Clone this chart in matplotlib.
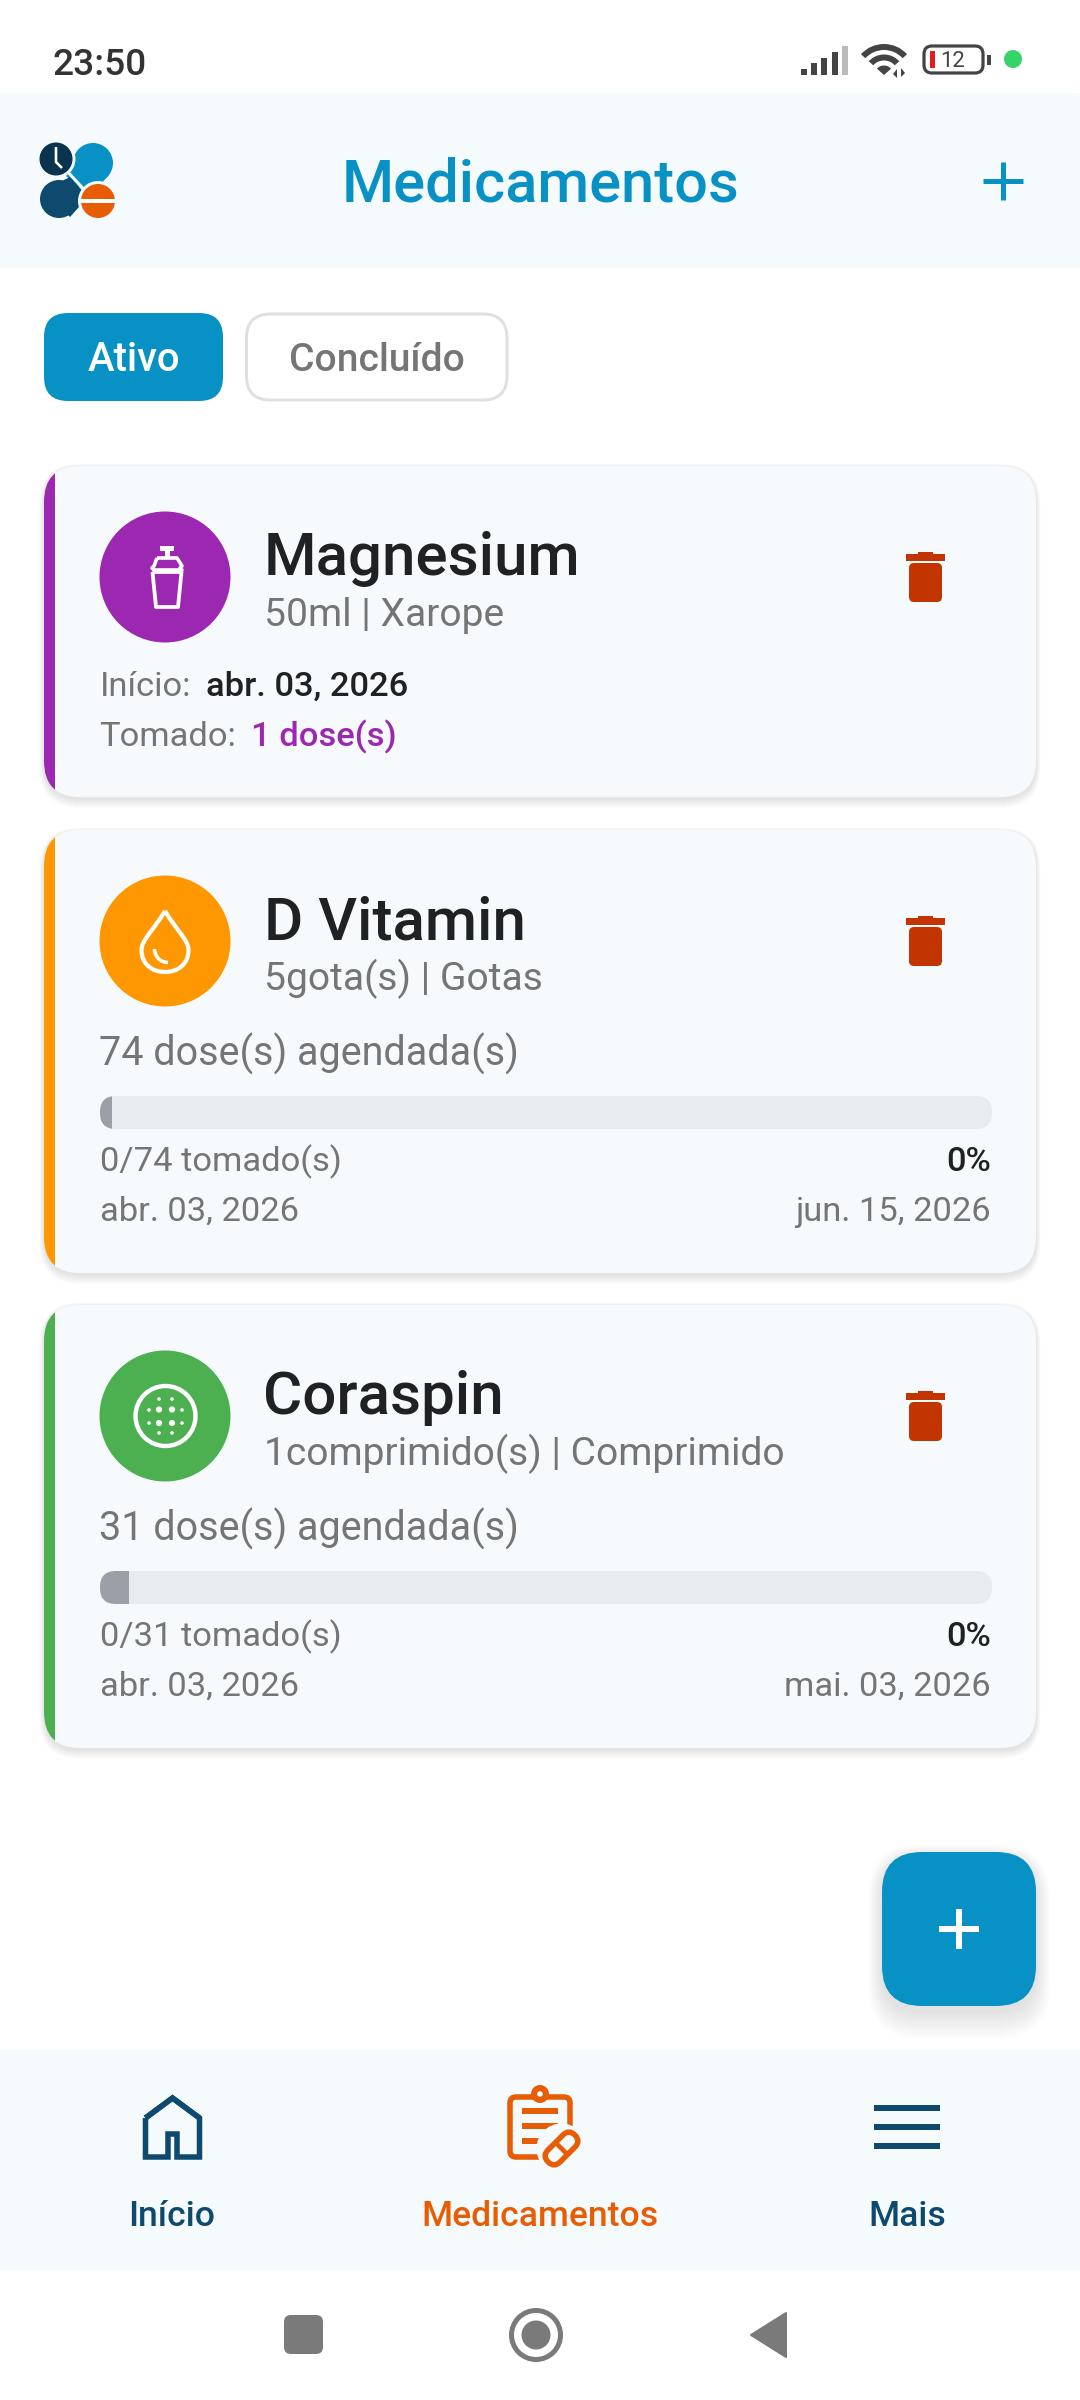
import numpy as np
import matplotlib
matplotlib.use("Agg")
import matplotlib.pyplot as plt
from matplotlib.patches import FancyBboxPatch, Rectangle, Circle, Wedge, Arc, Polygon, PathPatch
from matplotlib.path import Path

# ---- content ----
status_time = "23:50"
battery_level = "12"
screen_title = "Medicamentos"
tab_labels = ["Ativo", "Concluído"]
med_names = ["Magnesium", "D Vitamin", "Coraspin"]
med_details = ["50ml | Xarope", "5gota(s) | Gotas", "1comprimido(s) | Comprimido"]
med_colors = ["#9C27B0", "#FF9800", "#4CAF50"]
start_label = "Início:"
start_value = "abr. 03, 2026"
taken_label = "Tomado:"
taken_value = "1 dose(s)"
sched_names = ["74 dose(s) agendada(s)", "31 dose(s) agendada(s)"]
sched_total = [74, 31]
sched_fill = [1, 1]
sched_taken = ["0/74 tomado(s)", "0/31 tomado(s)"]
sched_pct = ["0%", "0%"]
sched_start = ["abr. 03, 2026", "abr. 03, 2026"]
sched_end = ["jun. 15, 2026", "mai. 03, 2026"]
nav_labels = ["Início", "Medicamentos", "Mais"]

BLUE = "#0891C4"; NAVY = "#0E4A6E"; ORANGE = "#E85D04"; PANEL = "#F5FAFD"
CARD = "#F7FAFC"; INK = "#1F2123"; GRAY = "#757575"; TRASH = "#C23500"
SMALL = 34.5

plt.rcParams["font.family"] = ["Roboto", "DejaVu Sans"]
fig = plt.figure(figsize=(10.8, 24), dpi=100, facecolor="white")
ax = fig.add_axes([0, 0, 1, 1])
ax.set_xlim(0, 1080); ax.set_ylim(2400, 0); ax.axis("off")
PT = 72 / 100

def T(x, y, s, px, color=INK, weight=400, ha="left"):
    return ax.text(x, y, s, fontsize=px * PT, color=color, fontweight=weight, ha=ha, va="baseline")

def RR(x0, y0, x1, y1, r, fc, ec="none", lw=0, z=2, alpha=None):
    p = FancyBboxPatch((x0, y0), x1 - x0, y1 - y0, boxstyle=f"round,pad=0,rounding_size={r}",
                       fc=fc, ec=ec, lw=lw * PT, zorder=z, alpha=alpha)
    ax.add_patch(p)
    return p

def L(xs, ys, color, lw, z=5, cap="butt", join="miter"):
    ax.plot(xs, ys, color=color, lw=lw * PT, solid_capstyle=cap, solid_joinstyle=join, zorder=z)

def shadow(x0, y0, x1, y1, r, dy, spread, z=1, a=0.022):
    for i in range(spread, 0, -1):
        RR(x0 - i * 0.5, y0 + dy - i * 0.5, x1 + i * 0.5, y1 + dy + i, r + i * 0.5, "black", z=z, alpha=a)

# status bar
T(52, 75, status_time, 37, "#333333", 500)
for x0, top, c in zip([801, 811, 821, 832, 842], [69, 63, 58, 52, 46],
                      ["#444444"] * 4 + ["#BBBBBB"]):
    ax.add_patch(Rectangle((x0, top), 6, 75 - top, fc=c, ec="none", zorder=3))
for r, w in [(31, 6), (20.5, 6)]:
    ax.add_patch(Wedge((884, 75), r, 222, 318, width=w, fc="#444444", ec="none", zorder=3))
ax.add_patch(Wedge((884, 75), 9.5, 222, 318, fc="#444444", ec="none", zorder=3))
ax.add_patch(Polygon([[893, 74], [897, 69], [897, 78]], fc="#444444", ec="none", zorder=3))
ax.add_patch(Polygon([[905, 73], [901, 68], [901, 77]], fc="#444444", ec="none", zorder=3))
RR(924, 46, 983, 73, 8, "white", "#444444", 3.2, z=3)
ax.add_patch(Rectangle((930, 51), 5, 17, fc="#E02020", ec="none", zorder=4))
T(953, 67, battery_level, 22, "#444444", 400, "center")
ax.add_patch(Rectangle((987, 55), 4, 10, fc="#444444", ec="none", zorder=3))
ax.add_patch(Circle((1013, 59), 9, fc="#34D46A", ec="none", zorder=3))

# header
ax.add_patch(Rectangle((0, 93), 1080, 175, fc=PANEL, ec="none", zorder=1))
ax.add_patch(Polygon([[79, 152], [108, 176], [90, 196], [66, 176]], fc=BLUE, ec="none", zorder=2))
ax.add_patch(Circle((93, 163), 20, fc=BLUE, ec="none", zorder=2))
ax.add_patch(Polygon([[70, 177], [88, 197], [70, 217], [44, 190]], fc=NAVY, ec="none", zorder=2))
ax.add_patch(Circle((59, 199), 19, fc=NAVY, ec="none", zorder=2))
L([66, 90], [170, 196], PANEL, 3, z=3)
ax.add_patch(Circle((56, 159), 19.5, fc=PANEL, ec="none", zorder=4))
ax.add_patch(Circle((56, 159), 16.5, fc="#0A3350", ec="none", zorder=5))
L([56, 56, 62], [147, 162, 168], "white", 2.6, z=6)
ax.add_patch(Circle((98, 201), 20, fc=PANEL, ec="none", zorder=4))
ax.add_patch(Circle((98, 201), 17, fc=ORANGE, ec="none", zorder=5))
ax.add_patch(Rectangle((80, 199), 36, 3.5, fc="white", ec="none", zorder=6))
T(540, 201, screen_title, 59.5, BLUE, 500, "center")
L([983, 1023], [181, 181], BLUE, 5)
L([1003, 1003], [162, 200], BLUE, 5)

# tabs
RR(44, 313, 223, 401, 24, BLUE)
T(133.5, 371, tab_labels[0], 40, "white", 500, "center")
RR(246.5, 314, 507, 400, 24, "white", "#E0E0E0", 3)
T(377, 371, tab_labels[1], 39, GRAY, 500, "center")

def trash(cy):
    ax.add_patch(Rectangle((918, cy - 25), 15, 4, fc=TRASH, ec="none", zorder=4))
    ax.add_patch(Rectangle((906, cy - 23), 39, 7, fc=TRASH, ec="none", zorder=4))
    RR(909, cy - 14, 942, cy + 25, 5, TRASH, z=4)

def card(y0, y1, color):
    shadow(44, y0, 1036, y1, 36, 2, 9, a=0.012)
    p = RR(44, y0, 1036, y1, 36, CARD, z=2)
    bar = Rectangle((44, y0), 11, y1 - y0, fc=color, ec="none", zorder=3)
    ax.add_patch(bar)
    bar.set_clip_path(p)

def head(i, cy):
    ax.add_patch(Circle((165, cy), 65.5, fc=med_colors[i], ec="none", zorder=3))
    T(263.5, cy - 2, med_names[i], 60, INK, 500)
    T(264, cy + 49, med_details[i], 39, GRAY)
    trash(cy)

# card 1
card(466, 797, med_colors[0])
head(0, 577)
W = "white"
ax.add_patch(Rectangle((160, 546), 14, 5, fc=W, ec="none", zorder=5))
ax.add_patch(Rectangle((164.5, 550), 5, 8, fc=W, ec="none", zorder=5))
L([157, 177, 182, 180, 182, 154, 152, 154, 157], [558, 558, 566, 568, 570, 570, 568, 566, 558], W, 3.6, join="round")
L([152.5, 181.5, 178, 156, 152.5], [572, 572, 607, 607, 572], W, 3.8, join="round")
T(99.5, 696, start_label, SMALL, GRAY)
T(206, 696, start_value, SMALL, INK, 500)
T(99.5, 746, taken_label, SMALL, GRAY)
T(251, 746, taken_value, SMALL, med_colors[0], 500)

# scheduled cards
geom = [(830, 1273, 941, 1), (1305, 1748, 1416, 2)]
for j, (y0, y1, cy, i) in enumerate(geom):
    card(y0, y1, med_colors[i])
    head(i, cy)
    T(99, cy + 125, sched_names[j], 39.5, GRAY)
    bar_x0, bar_x1 = 100, 992
    p = RR(bar_x0, cy + 155, bar_x1, cy + 188, 16, "#E8ECEF", z=3)
    fill = Rectangle((bar_x0, cy + 155), (bar_x1 - bar_x0) * sched_fill[j] / sched_total[j], 33,
                     fc="#9AA0A6", ec="none", zorder=4)
    ax.add_patch(fill)
    fill.set_clip_path(p)
    T(99.5, cy + 230, sched_taken[j], SMALL, GRAY)
    T(991, cy + 230, sched_pct[j], SMALL, INK, 500, "right")
    T(99.5, cy + 280, sched_start[j], SMALL, GRAY)
    T(990.5, cy + 280, sched_end[j], SMALL, GRAY, 400, "right")

# drop icon
drop = Path([(165, 911), (153, 931), (141.5, 940), (141.5, 950), (141.5, 964), (152, 972), (165, 972),
             (178, 972), (188.5, 964), (188.5, 950), (188.5, 940), (177, 931), (165, 911)],
            [Path.MOVETO] + [Path.CURVE4] * 12)
ax.add_patch(PathPatch(drop, fc="none", ec=W, lw=4.2 * PT, zorder=5))
ax.add_patch(Arc((168, 949), 27, 27, theta1=90, theta2=180, ec=W, lw=3.6 * PT, zorder=5))

# tablet icon
ax.add_patch(Circle((165.5, 1416), 30, fc="none", ec=W, lw=4.4 * PT, zorder=5))
for cx, cy_ in [(159, 1409.5), (172, 1409.5), (159, 1423), (172, 1423)]:
    ax.add_patch(Circle((cx, cy_), 3.1, fc=W, ec="none", zorder=5))
for cx, cy_ in [(159, 1399), (172, 1399), (159, 1433), (172, 1433),
                (149, 1410), (182, 1410), (149, 1423), (182, 1423)]:
    ax.add_patch(Circle((cx, cy_), 1.8, fc=W, ec="none", zorder=5))

# floating button
shadow(882, 1852, 1036, 2006, 40, 6, 28, a=0.0055)
RR(882, 1852, 1036, 2006, 40, BLUE, z=3)
L([939, 979], [1929, 1929], W, 6)
L([959, 959], [1909, 1949], W, 6)

# bottom nav
ax.add_patch(Rectangle((0, 2050), 1080, 220, fc=PANEL, ec="none", zorder=1))
L([145.5, 172.5, 199.5, 199.5, 177, 177, 168, 168, 145.5, 145.5],
  [2118, 2098, 2118, 2157, 2157, 2134, 2134, 2157, 2157, 2118], NAVY, 5.5)
L([145.5, 172.5, 199.5], [2118, 2098, 2118], NAVY, 5.5)
T(172, 2226, nav_labels[0], 35.5, NAVY, 500, "center")

RR(510, 2097, 570, 2157, 6, "none", ORANGE, 5.5, z=4)
ax.add_patch(Circle((540, 2094), 9, fc=ORANGE, ec="none", zorder=5))
ax.add_patch(Circle((540, 2094), 2.8, fc=PANEL, ec="none", zorder=6))
for y, x1 in [(2111, 558), (2126, 558), (2141, 546)]:
    L([522, x1], [y, y], ORANGE, 6)
ang = np.deg2rad(-45)
pill = FancyBboxPatch((-19, -8.5), 38, 17, boxstyle="round,pad=0,rounding_size=8.5", fc=PANEL, ec=ORANGE, lw=5.5 * PT,
                      zorder=7, transform=matplotlib.transforms.Affine2D().rotate(ang).translate(561.5, 2148.5) + ax.transData)
ax.add_patch(Circle((561.5, 2148.5), 25, fc=PANEL, ec="none", zorder=6))
ax.add_patch(pill)
L([555.5, 567.5], [2142.5, 2154.5], ORANGE, 4.6, z=8)
T(540, 2226, nav_labels[1], 35.5, ORANGE, 500, "center")

for y in [2108, 2127, 2146]:
    L([874, 940], [y, y], NAVY, 6)
T(907, 2226, nav_labels[2], 35.5, NAVY, 500, "center")

# system nav
RR(284, 2315, 323, 2354, 7, "#7A7A7A", z=3)
ax.add_patch(Circle((536, 2335), 24.5, fc="none", ec="#7A7A7A", lw=5 * PT, zorder=3))
ax.add_patch(Circle((536, 2335), 14.5, fc="#7A7A7A", ec="none", zorder=3))
ax.add_patch(Polygon([[751, 2335], [786, 2313], [786, 2357]], closed=True, fc="#7A7A7A", ec="#7A7A7A",
                     lw=2 * PT, joinstyle="round", zorder=3))

fig.savefig("out.png", dpi=100, facecolor="white")
